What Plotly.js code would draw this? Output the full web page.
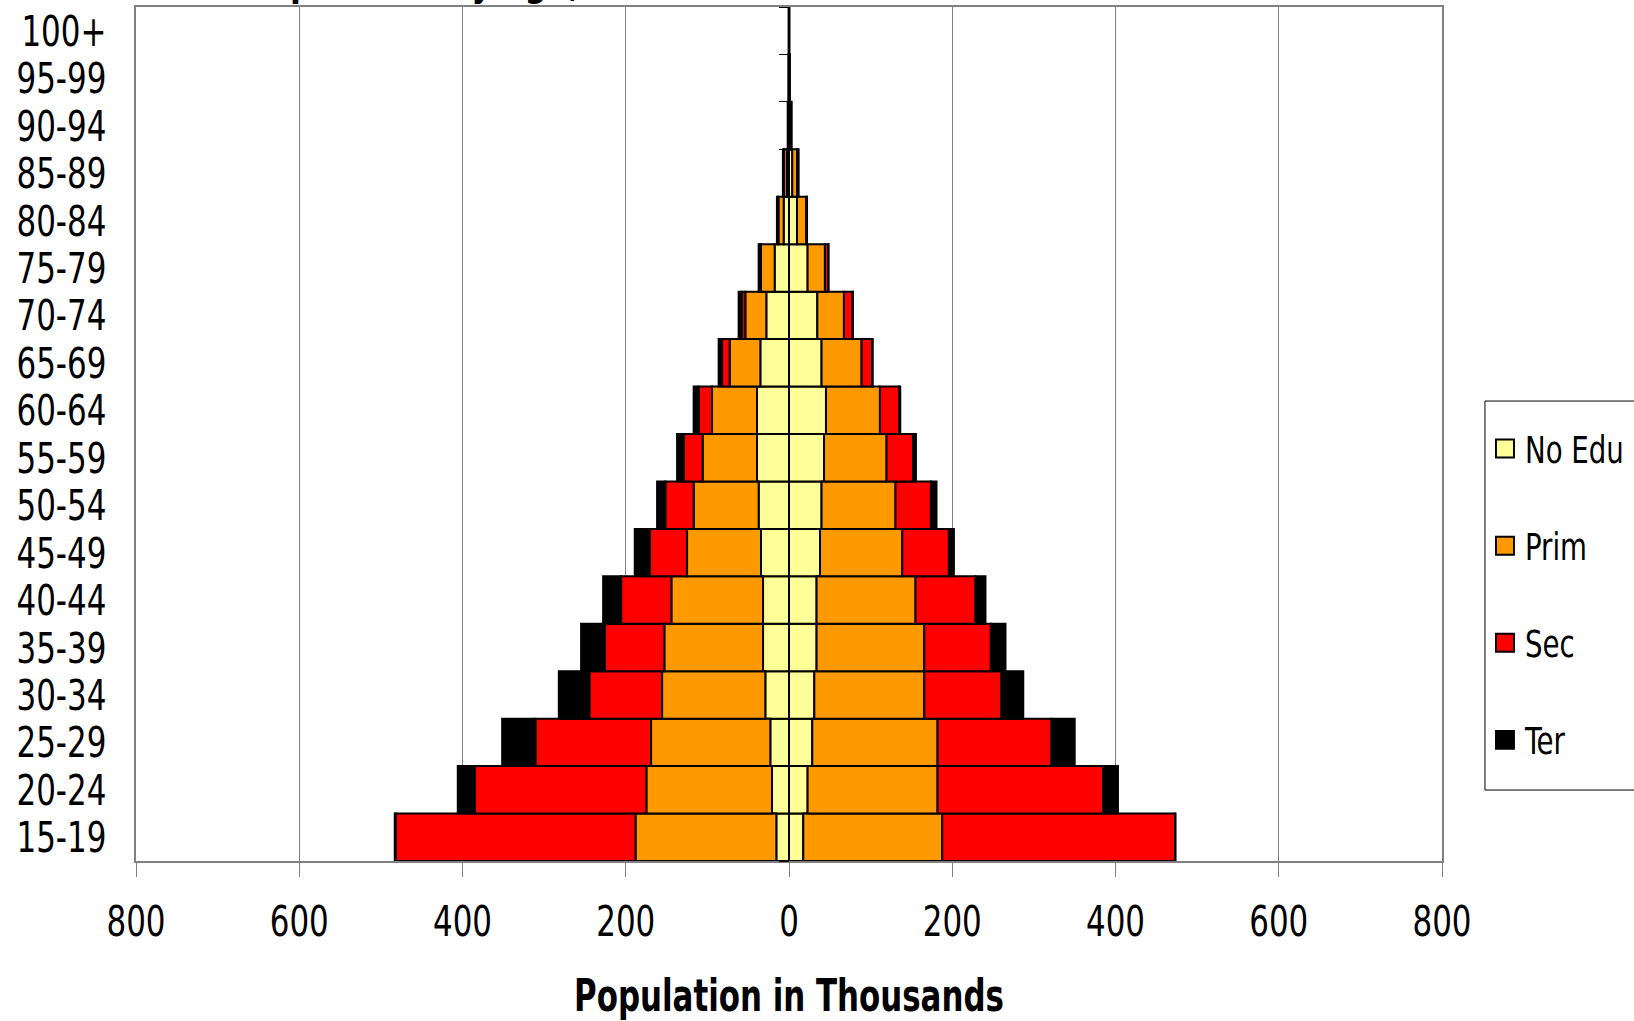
<!DOCTYPE html>
<html>
<head>
<meta charset="utf-8">
<script src="https://cdn.plot.ly/plotly-3.0.1.min.js"></script>
<style>
  html, body { margin: 0; padding: 0; background: #ffffff; }
  #chart { width: 1634px; height: 1021px; }
</style>
</head>
<body>
<div id="chart"></div>
<script>
// Age groups, bottom to top
const ages = ['15-19', '20-24', '25-29', '30-34', '35-39', '40-44', '45-49', '50-54',
              '55-59', '60-64', '65-69', '70-74', '75-79', '80-84', '85-89', '90-94',
              '95-99', '100+'];

// Left side of the pyramid (thousands)
const maleNoEdu = [15.5, 20.8, 22.9, 29.0, 31.8, 31.8, 34.3, 37.2, 39.2, 39.2, 35.1, 27.8, 17.6, 6.5, 2.5, 0.5, 0.2, 0.1];
const malePrim  = [172.5, 153.9, 146.1, 126.5, 120.9, 112.3, 90.6, 79.6, 66.6, 55.1, 37.6, 25.7, 16.7, 6.5, 3.5, 0.5, 0.2, 0.1];
const maleSec   = [294.0, 210.3, 141.6, 89.0, 73.1, 61.6, 45.8, 34.7, 23.2, 16.4, 9.3, 4.0, 0.5, 0.3, 0.2, 0.1, 0.0, 0.0];
const maleTer   = [1.0, 20.8, 40.8, 37.5, 28.9, 22.0, 18.3, 10.1, 8.1, 6.1, 4.2, 4.2, 2.4, 1.5, 1.3, 0.5, 0.2, 0.1];

// Right side of the pyramid (thousands)
const femaleNoEdu = [17.5, 22.8, 28.5, 31.0, 33.8, 33.8, 38.0, 39.9, 42.9, 45.3, 39.9, 34.7, 22.8, 9.8, 4.0, 1.0, 0.3, 0.1];
const femalePrim  = [170.2, 159.2, 153.5, 134.7, 131.9, 121.2, 100.7, 90.6, 76.6, 66.1, 49.0, 32.6, 21.2, 11.5, 6.0, 1.5, 0.3, 0.1];
const femaleSec   = [285.3, 202.8, 139.5, 94.6, 81.6, 73.5, 57.2, 43.4, 32.7, 23.6, 13.1, 10.6, 4.0, 0.3, 0.3, 0.2, 0.1, 0.0];
const femaleTer   = [0.5, 18.2, 28.5, 26.7, 17.9, 12.2, 6.1, 6.8, 3.3, 1.3, 0.5, 0.3, 0.5, 0.5, 1.5, 0.5, 0.2, 0.1];

const levelNames  = ['No Edu', 'Prim', 'Sec', 'Ter'];
const levelColors = ['#FFFF99', '#FF9900', '#FF0000', '#000000'];

const tickValues = [-800, -600, -400, -200, 0, 200, 400, 600, 800];
const tickLabels = ['800', '600', '400', '200', '0', '200', '400', '600', '800'];

const FONT = '"Liberation Sans Narrow", "Arial Narrow", "DejaVu Sans Condensed", sans-serif';

const maleSeries = [maleNoEdu, malePrim, maleSec, maleTer];
const femaleSeries = [femaleNoEdu, femalePrim, femaleSec, femaleTer];

const traces = [];
levelNames.forEach((name, i) => {
  traces.push({
    type: 'bar', orientation: 'h', name: name,
    y: ages, x: maleSeries[i].map(v => -v),
    marker: { color: levelColors[i], line: { color: '#000000', width: 2 } },
    legendgroup: name, showlegend: true,
    xaxis: 'x', yaxis: 'y', hoverinfo: 'skip'
  });
});
levelNames.forEach((name, i) => {
  traces.push({
    type: 'bar', orientation: 'h', name: name,
    y: ages, x: femaleSeries[i],
    marker: { color: levelColors[i], line: { color: '#000000', width: 2 } },
    legendgroup: name, showlegend: false,
    xaxis: 'x', yaxis: 'y2', hoverinfo: 'skip'
  });
});

const layout = {
  width: 1634, height: 1021,
  margin: { l: 135.5, r: 192, t: 7, b: 160, autoexpand: false },
  paper_bgcolor: '#ffffff', plot_bgcolor: '#ffffff',
  font: { family: FONT, color: '#000000' },
  barmode: 'relative', bargap: 0,
  showlegend: true,
  xaxis: {
    range: [-800, 800],
    tickvals: tickValues, ticktext: tickLabels,
    ticks: 'outside', ticklen: 14, tickwidth: 1, tickcolor: '#808080',
    tickfont: { size: 43, family: FONT },
    ticklabelstandoff: 7,
    showgrid: true, gridcolor: '#808080', gridwidth: 1,
    zeroline: false,
    showline: true, mirror: true, linecolor: '#808080', linewidth: 2,
    title: { text: '<b>Population in Thousands</b>', font: { size: 44, family: FONT }, standoff: 46 },
    fixedrange: true
  },
  yaxis: {
    type: 'category', categoryorder: 'array', categoryarray: ages,
    tickmode: 'array', tickvals: ages, ticktext: ages,
    range: [-0.5, 17.5],
    ticks: '', tickfont: { size: 43, family: FONT },
    ticklabelstandoff: 19,
    showgrid: false, zeroline: false,
    showline: true, mirror: true, linecolor: '#808080', linewidth: 2,
    fixedrange: true
  },
  yaxis2: {
    type: 'category', categoryorder: 'array', categoryarray: ages,
    range: [-0.5, 17.5],
    overlaying: 'y', anchor: 'free', position: 0.5, side: 'left',
    ticks: 'outside', ticklen: 10, tickwidth: 1, tickcolor: '#000000',
    tickson: 'boundaries', showticklabels: false,
    showgrid: false, zeroline: false,
    showline: true, linecolor: '#000000', linewidth: 1,
    fixedrange: true
  },
  legend: {
    x: 1.0329, xanchor: 'left', y: 0.5187, yanchor: 'top',
    bgcolor: 'rgba(0,0,0,0)', borderwidth: 0,
    font: { size: 37, family: FONT },
    traceorder: 'grouped', tracegroupgap: 46
  },
  // legend frame
  shapes: [{
    type: 'rect', xref: 'paper', yref: 'paper',
    x0: 1.0329, x1: 1.3, y0: 0.0831, y1: 0.5386,
    line: { color: '#000000', width: 1 }, fillcolor: '#ffffff', layer: 'below'
  }],
  annotations: [{
    text: '<b>Population by age, sex and education</b>',
    xref: 'paper', yref: 'paper', x: 0.3408, y: 1,
    xanchor: 'center', yanchor: 'bottom', yshift: 0,
    showarrow: false, font: { size: 44, family: FONT }
  }]
};

// Narrow lettering: compress each label horizontally around its anchor,
// and draw the legend swatches a little larger.
function condenseText(gd) {
  gd.querySelectorAll('svg text').forEach(t => {
    const w = t.getComputedTextLength();
    if (!w) return;
    let s = 0.8;
    if (t.closest('.g-xtitle')) s = 0.78;
    else if (t.closest('.legend')) s = 0.83;
    t.setAttribute('textLength', (w * s).toFixed(2));
    t.setAttribute('lengthAdjust', 'spacingAndGlyphs');
  });
  gd.querySelectorAll('.legend .legendpoints path').forEach(p => {
    const base = p.getAttribute('transform') || '';
    p.setAttribute('transform', (base + ' scale(1.5)').trim());
    p.style.strokeWidth = '1.3px';
  });
}

Plotly.newPlot('chart', traces, layout, { displayModeBar: false, staticPlot: true })
  .then(condenseText);
</script>
</body>
</html>
